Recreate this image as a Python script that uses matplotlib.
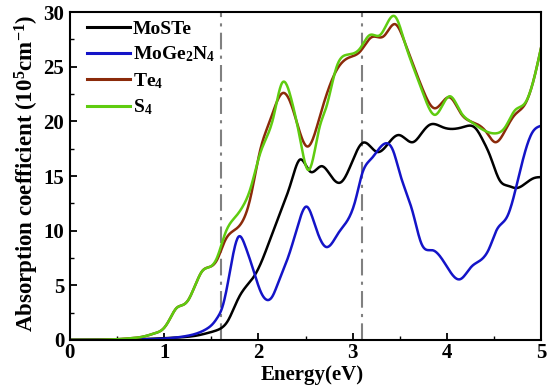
import numpy as np
import matplotlib
matplotlib.use("Agg")
import matplotlib.pyplot as plt
from matplotlib.ticker import MultipleLocator

# ---- data ----
e_mste = [0, 0.5, 0.8, 1.0, 1.2, 1.35, 1.45, 1.55, 1.61, 1.68, 1.74, 1.8, 1.88, 1.96, 2.04, 2.12, 2.23, 2.35, 2.44, 2.55, 2.67, 2.77, 2.87, 2.98, 3.11, 3.26, 3.38, 3.49, 3.64, 3.73, 3.82, 3.96, 4.18, 4.30, 4.38, 4.46, 4.56, 4.65, 4.74, 4.83, 4.92, 5.0]
a_mste = [0, 0.03, 0.08, 0.15, 0.25, 0.4, 0.6, 0.85, 1.1, 1.8, 2.9, 4.0, 5.0, 5.9, 7.3, 9.1, 11.6, 14.5, 16.5, 15.4, 15.9, 15.0, 14.4, 16.0, 18.05, 17.2, 18.0, 18.75, 18.1, 18.9, 19.7, 19.45, 19.5, 19.4, 18.3, 16.8, 14.6, 14.1, 13.9, 14.3, 14.8, 14.9]

e_moge = [0, 0.5, 0.8, 1.0, 1.2, 1.35, 1.45, 1.52, 1.57, 1.61, 1.66, 1.72, 1.79, 1.86, 1.95, 2.02, 2.09, 2.15, 2.2, 2.34, 2.43, 2.51, 2.6, 2.72, 2.85, 3.03, 3.10, 3.2, 3.36, 3.43, 3.50, 3.64, 3.73, 3.85, 4.0, 4.14, 4.26, 4.35, 4.45, 4.53, 4.64, 4.76, 4.90, 5.0]
a_moge = [0, 0.01, 0.05, 0.12, 0.3, 0.6, 1.0, 1.5, 2.1, 2.8, 4.5, 7.3, 9.45, 8.6, 6.3, 4.5, 3.66, 4.0, 5.0, 8.2, 10.8, 12.2, 10.5, 8.5, 9.8, 12.8, 15.2, 16.6, 18.0, 17.3, 15.25, 11.6, 8.8, 8.2, 6.7, 5.55, 6.7, 7.25, 8.4, 10.1, 11.3, 14.9, 18.9, 19.6]

e_te4 = [0, 0.3, 0.5, 0.65, 0.78, 0.9, 1.0, 1.06, 1.13, 1.20, 1.26, 1.31, 1.36, 1.40, 1.49, 1.56, 1.65, 1.77, 1.84, 1.91, 2.02, 2.12, 2.26, 2.35, 2.44, 2.52, 2.65, 2.83, 2.95, 3.08, 3.2, 3.33, 3.45, 3.55, 3.65, 3.75, 3.87, 4.03, 4.15, 4.25, 4.33, 4.42, 4.51, 4.62, 4.72, 4.83, 4.92, 5.0]
a_te4 = [0, 0.01, 0.06, 0.15, 0.3, 0.6, 1.1, 1.9, 2.9, 3.2, 3.7, 4.6, 5.6, 6.25, 6.7, 7.3, 9.15, 10.2, 11.0, 12.8, 17.4, 20.0, 22.6, 21.5, 19.0, 17.7, 20.4, 24.7, 25.8, 26.4, 27.7, 27.8, 28.9, 27.3, 25.0, 22.8, 21.2, 22.2, 20.7, 20.0, 19.7, 19.0, 18.1, 19.2, 20.6, 21.6, 23.8, 26.8]

e_s4 = [0, 0.3, 0.5, 0.65, 0.78, 0.9, 1.0, 1.06, 1.13, 1.20, 1.26, 1.31, 1.36, 1.40, 1.49, 1.56, 1.65, 1.77, 1.84, 1.91, 2.02, 2.16, 2.25, 2.35, 2.44, 2.53, 2.65, 2.72, 2.83, 2.94, 3.08, 3.18, 3.29, 3.45, 3.55, 3.65, 3.75, 3.875, 4.03, 4.15, 4.25, 4.35, 4.51, 4.62, 4.72, 4.83, 4.92, 5.0]
a_s4 = [0, 0.01, 0.06, 0.15, 0.3, 0.6, 1.1, 1.9, 2.9, 3.2, 3.7, 4.6, 5.6, 6.25, 6.7, 7.5, 9.8, 11.4, 12.3, 13.7, 17.1, 20.4, 23.5, 22.0, 18.5, 15.55, 19.5, 21.3, 25.0, 26.1, 26.7, 27.9, 27.9, 29.6, 27.3, 24.8, 22.5, 20.6, 22.3, 20.8, 20.0, 19.4, 18.9, 19.5, 21.0, 21.7, 23.8, 26.8]

labels = ["MoSTe", "MoGe$_2$N$_4$", "Te$_4$", "S$_4$"]
colors = ["#000000", "#1414C8", "#8B2A0A", "#5FCC10"]
vlines_x = [1.6, 3.1]

plt.rcParams['font.family'] = ['Liberation Serif', 'DejaVu Serif']
plt.rcParams['font.weight'] = 'bold'
plt.rcParams['mathtext.fontset'] = 'custom'
plt.rcParams['mathtext.rm'] = 'Liberation Serif:bold'
plt.rcParams['mathtext.it'] = 'Liberation Serif:bold'
plt.rcParams['mathtext.bf'] = 'Liberation Serif:bold'


def smooth(x, y, n=800):
    """Natural cubic spline through the read points."""
    x = np.asarray(x, float); y = np.asarray(y, float)
    N = len(x); h = np.diff(x)
    A = np.zeros((N, N)); b = np.zeros(N)
    A[0, 0] = 1; A[-1, -1] = 1
    for i in range(1, N - 1):
        A[i, i - 1] = h[i - 1]; A[i, i] = 2 * (h[i - 1] + h[i]); A[i, i + 1] = h[i]
        b[i] = 6 * ((y[i + 1] - y[i]) / h[i] - (y[i] - y[i - 1]) / h[i - 1])
    M = np.linalg.solve(A, b)
    xs = np.linspace(x[0], x[-1], n)
    idx = np.clip(np.searchsorted(x, xs) - 1, 0, N - 2)
    hi = h[idx]; a = x[idx + 1] - xs; c = xs - x[idx]
    ys = (M[idx] * a**3 / (6 * hi) + M[idx + 1] * c**3 / (6 * hi)
          + (y[idx] / hi - M[idx] * hi / 6) * a + (y[idx + 1] / hi - M[idx + 1] * hi / 6) * c)
    return xs, np.clip(ys, 0, None)


fig = plt.figure(figsize=(5.5, 3.92), dpi=100)
ax = fig.add_axes([0.127, 0.133, 0.857, 0.836])

for xv in vlines_x:
    ax.axvline(xv, color="#808080", lw=1.5, ls=(0, (8, 3, 1.5, 3)), zorder=1)

series = [(e_mste, a_mste), (e_moge, a_moge), (e_te4, a_te4), (e_s4, a_s4)]
for (ex, ay), lab, c in zip(series, labels, colors):
    xs, ys = smooth(ex, ay)
    ax.plot(xs, ys, color=c, lw=1.8, label=lab, zorder=2)

ax.set_xlim(0, 5)
ax.set_ylim(0, 30)
ax.xaxis.set_major_locator(MultipleLocator(1))
ax.xaxis.set_minor_locator(MultipleLocator(0.5))
ax.yaxis.set_major_locator(MultipleLocator(5))
ax.yaxis.set_minor_locator(MultipleLocator(2.5))
ax.tick_params(which='both', direction='in', top=False, right=False, labelsize=15)
ax.tick_params(axis='x', pad=2)
ax.tick_params(axis='y', pad=4)
ax.tick_params(which='major', length=5, width=1.3)
ax.tick_params(which='minor', length=3, width=1.0)
for s in ax.spines.values():
    s.set_linewidth(1.5)
for lab in ax.get_xticklabels() + ax.get_yticklabels():
    lab.set_fontweight('bold')

ax.set_xlabel("Energy(eV)", fontsize=15, fontweight='bold')
ax.set_ylabel("Absorption coefficient (10$^5$cm$^{-1}$)", fontsize=16.5, fontweight='bold')
ax.xaxis.set_label_coords(0.514, -0.076)
ax.yaxis.set_label_coords(-0.061, 0.509)

leg = ax.legend(loc='upper left', bbox_to_anchor=(0.0195, 1.0), frameon=False,
                handlelength=2.2, handletextpad=0.15, labelspacing=0.35,
                borderaxespad=0.0, prop={'weight': 'bold', 'size': 14})
for line in leg.get_lines():
    line.set_linewidth(2.2)

fig.savefig("out.png", dpi=100)
